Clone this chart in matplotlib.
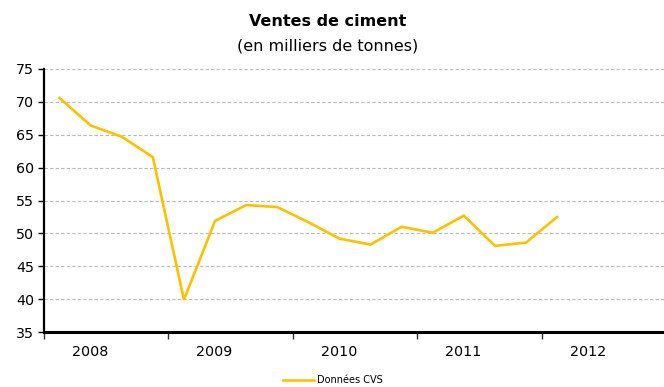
import matplotlib
matplotlib.use("Agg")
import matplotlib.pyplot as plt
from matplotlib.lines import Line2D

# quarterly cement sales, seasonally adjusted (thousand tonnes)
years = ["2008", "2009", "2010", "2011", "2012"]
quarters_per_year = 4
ventes = [70.6, 66.4, 64.7, 61.6,
          39.9, 51.9, 54.3, 54.0,
          51.7, 49.2, 48.3, 51.0,
          50.1, 52.7, 48.1, 48.6,
          52.5]
y_ticks = [35, 40, 45, 50, 55, 60, 65, 70, 75]

n_cat = len(years) * quarters_per_year
gold = "#FFC000"

fig = plt.figure(figsize=(6.64, 3.87), dpi=100)
ax = fig.add_axes([44 / 664, 1 - 332 / 387, 622 / 664, 263 / 387])

ax.plot(range(len(ventes)), ventes, color=gold, lw=1.9, solid_joinstyle="miter")

ax.set_xlim(-0.5, n_cat - 0.5)
ax.set_ylim(35, 75)
ax.set_yticks(y_ticks)
ax.set_yticklabels([str(v) for v in y_ticks], fontsize=10.3)

# year boundaries as major ticks, labels on minor ticks
ax.set_xticks([i * quarters_per_year - 0.5 for i in range(len(years))])
ax.set_xticklabels([])
ax.set_xticks([i * quarters_per_year + 0.98 for i in range(len(years))], minor=True)
ax.set_xticklabels(years, minor=True, fontsize=10.3)
ax.tick_params(axis="x", which="major", length=5, width=1, direction="out", color="#333333")
ax.tick_params(axis="x", which="minor", length=0, pad=9)
ax.tick_params(axis="y", length=4, width=1, direction="out", pad=3)

ax.grid(axis="y", color="#BBBBBB", ls=(0, (3, 2)), lw=0.8)
ax.set_axisbelow(True)

for side in ["top", "right"]:
    ax.spines[side].set_visible(False)
ax.spines["left"].set_linewidth(1.6)
ax.spines["bottom"].set_linewidth(2.2)

fig.text(0.494, 1 - 22 / 387, "Ventes de ciment", ha="center", va="center",
         fontsize=11.5, fontweight="bold")
fig.text(0.494, 1 - 46 / 387, "(en milliers de tonnes)", ha="center", va="center",
         fontsize=11.5)

handle = Line2D([], [], color=gold, lw=1.9)
fig.legend([handle], ["Données CVS"], loc="center", bbox_to_anchor=(333 / 664, 1 - 380 / 387),
           frameon=False, fontsize=7, handlelength=3.2, handletextpad=0.3)

fig.savefig("out.png", dpi=100)
